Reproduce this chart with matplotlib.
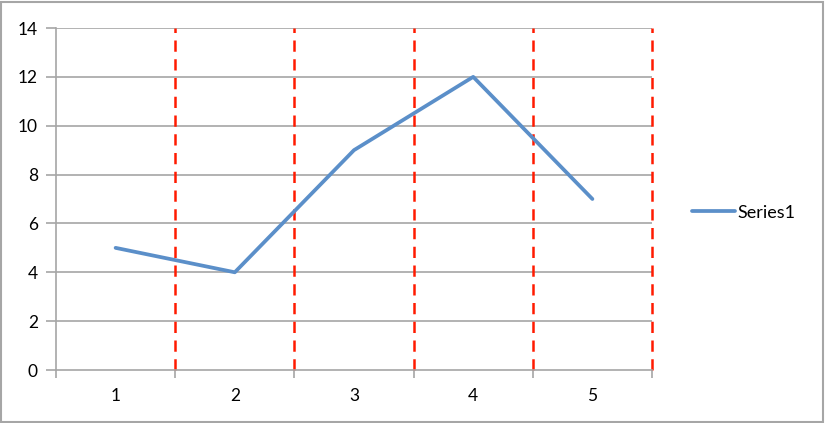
import matplotlib
matplotlib.use('Agg')
import matplotlib.pyplot as plt
from matplotlib.patches import Rectangle

categories = [1, 2, 3, 4, 5]
series1 = [5, 4, 9, 12, 7]
y_ticks = [0, 2, 4, 6, 8, 10, 12, 14]
dividers = [1.5, 2.5, 3.5, 4.5, 5.5]

plt.rcParams['font.family'] = ['Lato', 'DejaVu Sans']

fig = plt.figure(figsize=(8.25, 4.23), dpi=100)
ax = fig.add_axes([56/825, 1 - 370/423, (652 - 56)/825, (370 - 28)/423])

# horizontal grid
for y in y_ticks[1:]:
    ax.axhline(y, color='#a6a6a6', lw=1.2, zorder=1)

# red dashed category dividers
for x in dividers:
    ax.axvline(x, color='#ff1a00', lw=1.8, ls=(0, (4.5, 3)), zorder=2, clip_on=False)

ax.plot(categories, series1, color='#5b8fc9', lw=2.7, solid_capstyle='round',
        label='Series1', zorder=3)

ax.set_xlim(0.5, 5.5)
ax.set_ylim(0, 14)
ax.set_yticks(y_ticks)
ax.set_xticks([0.5] + dividers)
ax.set_xticklabels([])
ax.set_xticks(categories, minor=True)
ax.set_xticklabels([str(c) for c in categories], minor=True)
ax.tick_params(axis='x', which='minor', length=0, pad=13, labelsize=12.5)
ax.tick_params(axis='x', which='major', length=6, width=1.2, color='#a6a6a6')
ax.tick_params(axis='y', length=7, width=1.2, color='#a6a6a6', labelsize=12.5, pad=6)

for s in ['top', 'right']:
    ax.spines[s].set_visible(False)
for s in ['left', 'bottom']:
    ax.spines[s].set_color('#a6a6a6')
    ax.spines[s].set_linewidth(1.2)

ax.legend(loc='center left', bbox_to_anchor=(1.04, 0.46), frameon=False,
          fontsize=13, handlelength=2.4, handletextpad=0.1)

fig.patches.append(Rectangle((1/825, 1/423), 822/825, 420/423, transform=fig.transFigure,
                             fill=False, edgecolor='#a6a6a6', lw=1.5))

fig.savefig('out.png', dpi=100)
